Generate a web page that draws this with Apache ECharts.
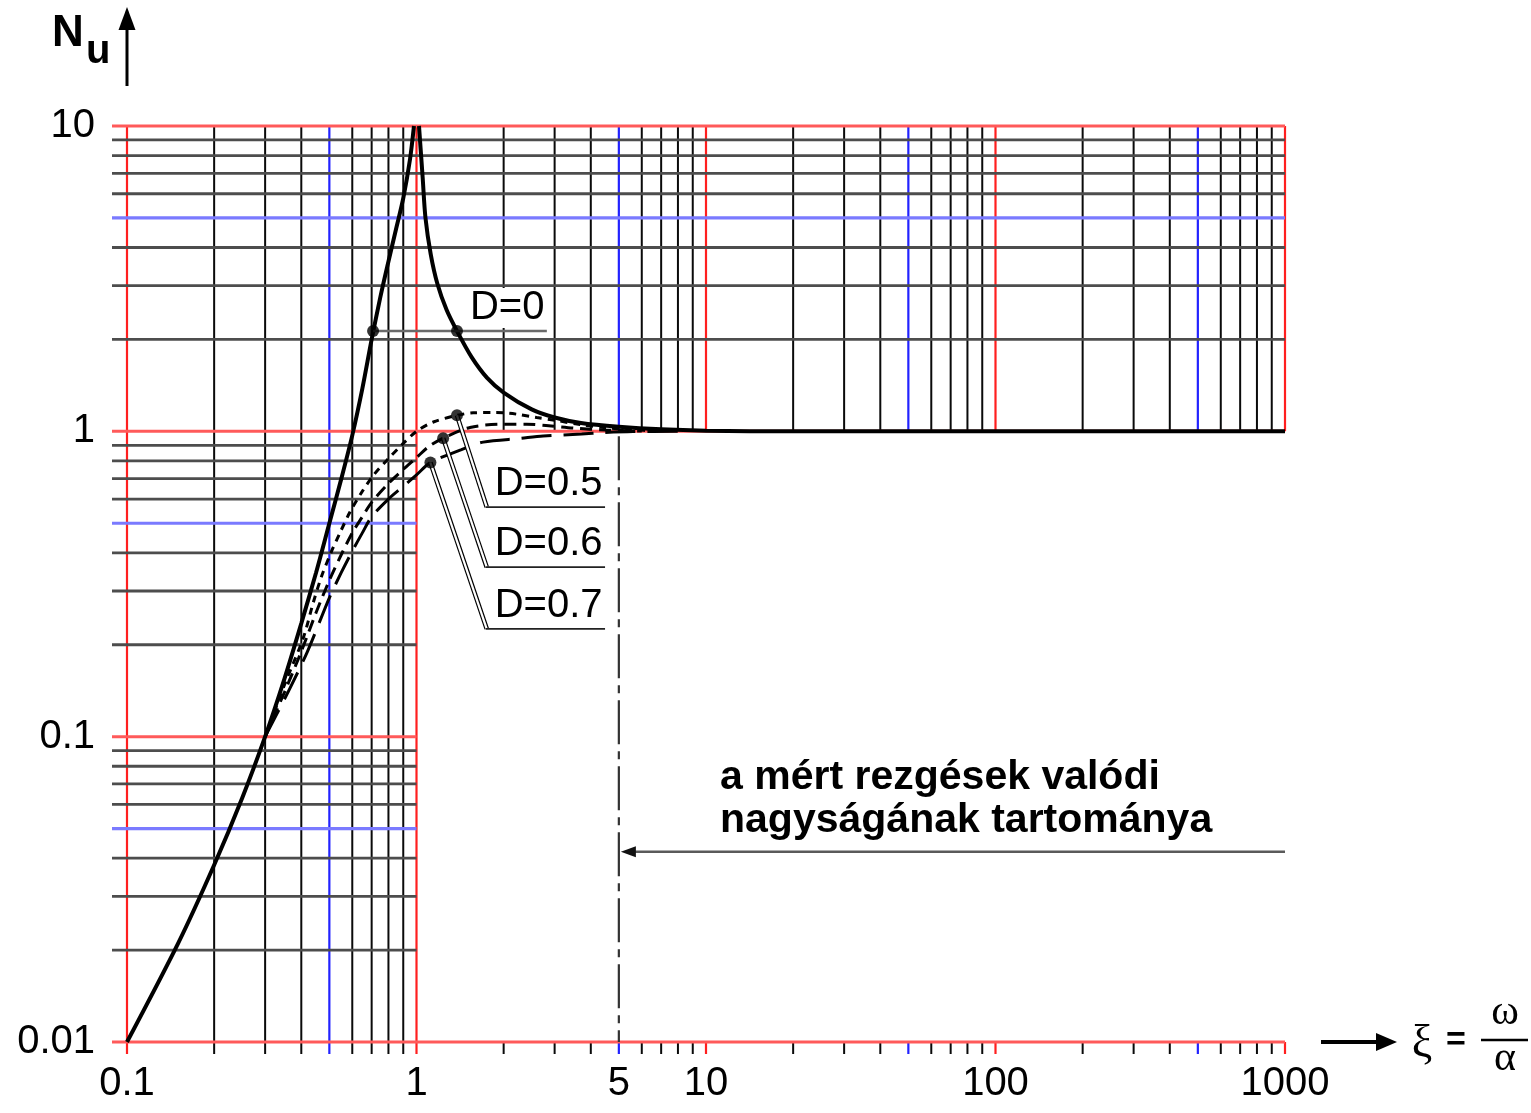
<!DOCTYPE html>
<html><head><meta charset="utf-8">
<script src="https://cdn.jsdelivr.net/npm/echarts@6/dist/echarts.min.js"></script>
<style>html,body{margin:0;padding:0;background:#fff}#c{width:1531px;height:1113px}</style>
</head><body><div id="c"></div>
<script>
// ---------------- data ----------------
const xGridFull  = [0.1,0.2,0.3,0.4,0.5,0.6,0.7,0.8,0.9,1];
const xGridUpper = [2,3,4,5,6,7,8,9,10,20,30,40,50,60,70,80,90,100,200,300,400,500,600,700,800,900,1000];
const yGridFull  = [1,2,3,4,5,6,7,8,9,10];
const yGridLeft  = [0.01,0.02,0.03,0.04,0.05,0.06,0.07,0.08,0.09,0.1,0.2,0.3,0.4,0.5,0.6,0.7,0.8,0.9];
const xExtraTickLabels = [5];

const d0Left = [[0.1,0.01],[0.15,0.021],[0.2,0.038],[0.25,0.063],[0.3,0.1],[0.35,0.155],[0.4,0.235],
  [0.45,0.345],[0.5,0.5],[0.55,0.7],[0.6,0.97],[0.65,1.38],[0.7,2.0],[0.75,2.75],[0.8,3.6],[0.85,4.6],
  [0.9,5.8],[0.95,7.8],[0.98,10]];
const d0Right = [[1.02,10],[1.05,6.8],[1.074,5.0],[1.12,3.8],[1.18,3.05],[1.27,2.5],[1.38,2.13],[1.55,1.75],
  [1.75,1.5],[2.0,1.34],[2.5,1.18],[3.0,1.11],[3.7,1.065],[5.0,1.035],[7,1.015],[10,1.005],[20,1.0],[1000,1.0]];
const d05 = [[0.3,0.1],[0.35,0.148],[0.406,0.21],[0.44,0.275],[0.47,0.335],[0.509,0.405],[0.544,0.465],
  [0.589,0.544],[0.647,0.632],[0.71,0.718],[0.789,0.803],[0.898,0.911],[1.0,1.0],[1.143,1.073],[1.38,1.128],
  [1.57,1.15],[1.89,1.152],[2.22,1.138],[2.6,1.11],[3.05,1.085],[3.67,1.052],[4.54,1.027],[5.5,1.012],[7,1.003]];
const d06 = [[0.3,0.1],[0.35,0.14],[0.4,0.19],[0.45,0.255],[0.5,0.325],[0.55,0.395],[0.6,0.465],[0.65,0.525],
  [0.7,0.585],[0.8,0.675],[0.9,0.75],[1.0,0.82],[1.1,0.89],[1.236,0.95],[1.53,1.03],[2.0,1.055],[2.4,1.055],
  [2.8,1.045],[3.5,1.025],[4.5,1.01],[6,1.002]];
const d07 = [[0.3,0.1],[0.36,0.14],[0.42,0.19],[0.5,0.285],[0.55,0.345],[0.6,0.405],[0.65,0.465],[0.7,0.525],
  [0.8,0.6],[0.9,0.66],[1.0,0.72],[1.117,0.79],[1.43,0.871],[1.7,0.922],[2.28,0.948],[2.74,0.965],
  [3.72,0.98],[4.42,0.99],[5.6,0.998],[8,1.0]];
const markerPoints = [[0.708,2.13],[1.38,2.13],[1.38,1.128],[1.236,0.95],[1.117,0.79]];

const labelNames = ['D=0','D=0.5','D=0.6','D=0.7'];
const d0LeaderEndXi = 2.82;
const leaderElbowXi = 1.748;
const leaderEndXi = 4.48;
const leaderElbowN = [0.565, 0.359, 0.2255];
const d0LabelXi = 1.494;
const rangeXi = 5;
const rangeArrowN = 0.042;
const annoXi = 11.18;
const annotationText = 'a mért rezgések valódi\nnagyságának tartománya';

// ---------------- chart ----------------
const FONT = '"Liberation Sans", Arial, Helvetica, sans-serif';
const chart = echarts.init(document.getElementById('c'), null, {renderer:'canvas'});

function mantissa(v){ const e = Math.floor(Math.log10(v) + 1e-9); return Math.round(v / Math.pow(10, e)); }

const segs = [];
xGridFull.forEach(v => segs.push({a:[v,0.01], b:[v,10], v, dir:'v', ext:true}));
xGridUpper.forEach(v => { segs.push({a:[v,1], b:[v,10], v, dir:'v'}); segs.push({a:[v,0.01], b:[v,0.01], v, dir:'t'}); });
yGridFull.forEach(v => segs.push({a:[0.1,v], b:[1000,v], v, dir:'h'}));
yGridLeft.forEach(v => segs.push({a:[0.1,v], b:[v === 0.01 ? 1000 : 1, v], v, dir:'h'}));

function segStyle(s){
  const m = mantissa(s.v); const vert = s.dir !== 'h';
  if (m === 1) return vert ? {stroke:'#ff1f1f', lineWidth:2.2} : {stroke:'#ff5a5a', lineWidth:3};
  if (m === 5) return vert ? {stroke:'#2222ff', lineWidth:2.2} : {stroke:'#7a7aff', lineWidth:3.2};
  return vert ? {stroke:'#0a0a0a', lineWidth:2} : {stroke:'#4d4d4d', lineWidth:2.8};
}

function renderGrid(params, api){
  const s = segs[params.dataIndex];
  const p1 = api.coord(s.a), p2 = api.coord(s.b);
  let x1 = p1[0], y1 = p1[1], x2 = p2[0], y2 = p2[1];
  if (s.dir === 'h') x1 -= 15;
  if (s.dir === 'v' && s.ext) y1 += 12;
  if (s.dir === 't') y2 = y1 + 12;
  return {type:'line', silent:true, shape:{x1, y1, x2, y2}, style:segStyle(s)};
}

function txt(text, x, y, font, align, valign, extra){
  return {type:'text', silent:true, style:Object.assign({text, x, y, font, fill:'#000',
    align, verticalAlign:valign, textAlign:align, textVerticalAlign:valign}, extra || {})};
}

function renderAnno(params, api){
  const ch = [];
  const P = p => api.coord(p);
  // dash-dot boundary line
  const a = P([rangeXi,1]), b = P([rangeXi,0.01]);
  ch.push({type:'line', shape:{x1:a[0], y1:a[1]+5, x2:b[0], y2:b[1]}, style:{stroke:'#333', lineWidth:2.2, lineDash:[44,7,8,7]}});
  // range arrow
  const r0 = P([rangeXi, rangeArrowN]), r1 = P([1000, rangeArrowN]);
  ch.push({type:'line', shape:{x1:r0[0]+14, y1:r0[1], x2:r1[0], y2:r1[1]}, style:{stroke:'#5a5a5a', lineWidth:2.6}});
  ch.push({type:'polygon', shape:{points:[[r0[0]+2,r0[1]],[r0[0]+17,r0[1]-5.5],[r0[0]+17,r0[1]+5.5]]}, style:{fill:'#111'}});
  const t = P([annoXi, rangeArrowN]);
  ch.push(txt(annotationText, t[0], t[1]-10, 'bold 41px ' + FONT, 'left', 'bottom', {lineHeight:43}));
  // D=0 leader + label
  const m0 = P(markerPoints[0]), e0 = P([d0LeaderEndXi, markerPoints[0][1]]);
  ch.push({type:'line', shape:{x1:m0[0], y1:m0[1], x2:e0[0], y2:e0[1]}, style:{stroke:'#6a6a6a', lineWidth:2.4}});
  const l0 = P([d0LabelXi, markerPoints[0][1]]);
  ch.push(txt(labelNames[0], l0[0], l0[1]-3, '40px ' + FONT, 'left', 'bottom', {backgroundColor:'#fff', padding:[0,3,0,3]}));
  // damped-curve leaders
  for (let i = 0; i < 3; i++){
    const d = P(markerPoints[i+2]), el = P([leaderElbowXi, leaderElbowN[i]]), en = P([leaderEndXi, leaderElbowN[i]]);
    ch.push({type:'line', shape:{x1:d[0], y1:d[1], x2:el[0], y2:el[1]}, style:{stroke:'#000', lineWidth:4.6}});
    ch.push({type:'line', shape:{x1:d[0], y1:d[1], x2:el[0], y2:el[1]}, style:{stroke:'#fff', lineWidth:2.2}});
    ch.push({type:'line', shape:{x1:el[0]-1, y1:el[1], x2:en[0], y2:en[1]}, style:{stroke:'#222', lineWidth:1.8}});
    ch.push(txt(labelNames[i+1], el[0]+8, el[1]-3, '40px ' + FONT, 'left', 'bottom'));
  }
  // extra x tick label "5"
  xExtraTickLabels.forEach(v => {
    const q = P([v, 0.01]);
    ch.push(txt(String(v), q[0], q[1]+22, '40px ' + FONT, 'center', 'top'));
  });
  return {type:'group', children:ch};
}

const lineBase = {type:'line', showSymbol:false, smooth:0.3, silent:true, clip:true};
const centerMid = {align:'center', verticalAlign:'middle', textAlign:'center', textVerticalAlign:'middle'};
const SERIF = '"Liberation Serif", "DejaVu Serif", serif';

chart.setOption({
  animation:false,
  backgroundColor:'#fff',
  textStyle:{fontFamily:FONT},
  grid:{left:127, right:246, top:126, bottom:71, containLabel:false, outerBoundsMode:'none'},
  xAxis:{type:'log', logBase:10, min:0.1, max:1000,
    axisLine:{show:false}, axisTick:{show:false}, splitLine:{show:false},
    axisLabel:{fontSize:40, color:'#000', margin:22, fontFamily:FONT, formatter:v => String(+(+v).toPrecision(6))}},
  yAxis:{type:'log', logBase:10, min:0.01, max:10,
    axisLine:{show:false}, axisTick:{show:false}, splitLine:{show:false},
    axisLabel:{fontSize:40, color:'#000', margin:32, fontFamily:FONT, formatter:v => String(+(+v).toPrecision(6))}},
  graphic:[
    {type:'text', left:52, top:12, silent:true, style:{text:'N', font:'bold 44px ' + FONT, fill:'#000'}},
    {type:'text', left:86, top:32, silent:true, style:{text:'u', font:'bold 40px ' + FONT, fill:'#000'}},
    {type:'line', silent:true, shape:{x1:127, y1:86, x2:127, y2:24}, style:{stroke:'#000', lineWidth:3}},
    {type:'polygon', silent:true, shape:{points:[[118.5,30],[135.5,30],[127,7]]}, style:{fill:'#000'}},
    {type:'line', silent:true, shape:{x1:1321, y1:1042, x2:1382, y2:1042}, style:{stroke:'#000', lineWidth:4}},
    {type:'polygon', silent:true, shape:{points:[[1376,1033],[1376,1051],[1397,1042]]}, style:{fill:'#000'}},
    {type:'text', silent:true, style:Object.assign({text:'ξ', x:1422, y:1045, font:'46px ' + SERIF, fill:'#000'}, centerMid)},
    {type:'text', silent:true, style:Object.assign({text:'=', x:1456, y:1041, font:'bold 34px ' + FONT, fill:'#000'}, centerMid)},
    {type:'text', silent:true, style:Object.assign({text:'ω', x:1505, y:1013, font:'42px ' + SERIF, fill:'#000'}, centerMid)},
    {type:'line', silent:true, shape:{x1:1481, y1:1040, x2:1528, y2:1040}, style:{stroke:'#000', lineWidth:2.5}},
    {type:'text', silent:true, style:Object.assign({text:'α', x:1505, y:1059, font:'42px ' + SERIF, fill:'#000'}, centerMid)}
  ],
  series:[
    {type:'custom', name:'grid', z:1, silent:true, renderItem:renderGrid,
      encode:{x:[0,2], y:[1,3]}, data:segs.map(s => [s.a[0], s.a[1], s.b[0], s.b[1]])},
    Object.assign({}, lineBase, {name:'D=0.7', z:3, data:d07, lineStyle:{color:'#000', width:3, type:[30,12]}}),
    Object.assign({}, lineBase, {name:'D=0.6', z:3, data:d06, lineStyle:{color:'#000', width:3, type:[12,7]}}),
    Object.assign({}, lineBase, {name:'D=0.5', z:3, data:d05, lineStyle:{color:'#000', width:3, type:[7,6]}}),
    Object.assign({}, lineBase, {name:'D=0 left', z:4, data:d0Left, lineStyle:{color:'#000', width:4}}),
    Object.assign({}, lineBase, {name:'D=0 right', z:4, data:d0Right, lineStyle:{color:'#000', width:4}}),
    {type:'custom', name:'annotations', z:5, silent:true, renderItem:renderAnno, encode:{x:0, y:1}, data:[[1,1]]},
    {type:'scatter', name:'points', z:6, silent:true, data:markerPoints, symbolSize:12, itemStyle:{color:'#000'}}
  ]
});
</script>
</body></html>
